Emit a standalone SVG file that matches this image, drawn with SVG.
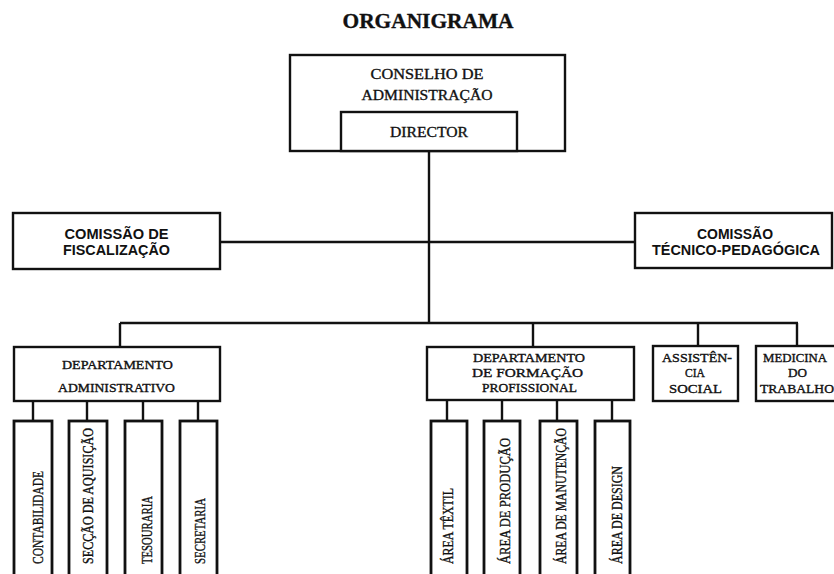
<svg xmlns="http://www.w3.org/2000/svg" width="834" height="574" viewBox="0 0 834 574">
<style>
.box{fill:#fff;stroke:#111;stroke-width:2.4}
.sub{fill:#fff;stroke:#111;stroke-width:2.8}
.ln{fill:none;stroke:#111;stroke-width:2.4}
.serif{font-family:"Liberation Serif","Times New Roman",serif;fill:#111;stroke:#111;stroke-width:0.35;text-anchor:middle}
.sans{font-family:"Liberation Sans",Arial,sans-serif;font-weight:bold;fill:#111;text-anchor:middle;font-size:14.5px}
.vt{font-family:"Liberation Serif","Times New Roman",serif;fill:#111;stroke:#111;stroke-width:0.35;font-size:15px}
</style>
<rect width="834" height="574" fill="#fff"/>
<text x="428" y="28" class="serif" font-size="21" font-weight="bold" textLength="171" lengthAdjust="spacingAndGlyphs">ORGANIGRAMA</text>

<g id="connectors">
<path class="ln" d="M429 151V323M220 242H635M120 323H798M120 323V347M533 323V347M698 323V346M797 323V346"/>
<path class="ln" d="M33 401V421M87 401V421M143 401V421M198 401V421M447 400V421M502 400V421M557 400V421M612 400V421"/>
</g>

<g id="conselho">
<rect class="box" x="290" y="55" width="275" height="96"/>
<text x="427" y="78.5" class="serif" font-size="15" textLength="113" lengthAdjust="spacingAndGlyphs">CONSELHO DE</text>
<text x="427" y="100" class="serif" font-size="15" textLength="131" lengthAdjust="spacingAndGlyphs">ADMINISTRAÇÃO</text>
</g>
<g id="director">
<rect class="box" x="341" y="112" width="176" height="39"/>
<text x="429" y="137" class="serif" font-size="15" textLength="78" lengthAdjust="spacingAndGlyphs">DIRECTOR</text>
</g>

<g id="fiscalizacao">
<rect class="box" x="13" y="213" width="207" height="56"/>
<text x="116.5" y="239" class="sans" textLength="104" lengthAdjust="spacingAndGlyphs">COMISSÃO DE</text>
<text x="116.5" y="255" class="sans" textLength="107" lengthAdjust="spacingAndGlyphs">FISCALIZAÇÃO</text>
</g>
<g id="tecnico">
<rect class="box" x="635" y="213" width="197" height="55"/>
<text x="735" y="239" class="sans" textLength="76" lengthAdjust="spacingAndGlyphs">COMISSÃO</text>
<text x="736" y="255" class="sans" textLength="168" lengthAdjust="spacingAndGlyphs">TÉCNICO-PEDAGÓGICA</text>
</g>

<g id="dep-adm">
<rect class="box" x="14" y="347" width="206" height="54"/>
<text x="117.5" y="369" class="serif" font-size="12.5" textLength="111" lengthAdjust="spacingAndGlyphs">DEPARTAMENTO</text>
<text x="116.5" y="392" class="serif" font-size="12.5" textLength="117" lengthAdjust="spacingAndGlyphs">ADMINISTRATIVO</text>
</g>
<g id="dep-form">
<rect class="box" x="427" y="347" width="207" height="53"/>
<text x="529" y="362" class="serif" font-size="12.5" textLength="112" lengthAdjust="spacingAndGlyphs">DEPARTAMENTO</text>
<text x="527.5" y="377" class="serif" font-size="12.5" textLength="111" lengthAdjust="spacingAndGlyphs">DE FORMAÇÃO</text>
<text x="529.5" y="392" class="serif" font-size="12.5" textLength="95" lengthAdjust="spacingAndGlyphs">PROFISSIONAL</text>
</g>
<g id="assistencia">
<rect class="box" x="653" y="346" width="85" height="55"/>
<text x="697" y="362" class="serif" font-size="12.5" textLength="70" lengthAdjust="spacingAndGlyphs">ASSISTÊN-</text>
<text x="695" y="377" class="serif" font-size="12.5" textLength="20" lengthAdjust="spacingAndGlyphs">CIA</text>
<text x="695.5" y="393" class="serif" font-size="12.5" textLength="53" lengthAdjust="spacingAndGlyphs">SOCIAL</text>
</g>
<g id="medicina">
<rect class="box" x="756" y="346" width="82" height="55"/>
<text x="795" y="362" class="serif" font-size="12.5" textLength="64" lengthAdjust="spacingAndGlyphs">MEDICINA</text>
<text x="797.5" y="377" class="serif" font-size="12.5" textLength="19" lengthAdjust="spacingAndGlyphs">DO</text>
<text x="797" y="393" class="serif" font-size="12.5" textLength="74" lengthAdjust="spacingAndGlyphs">TRABALHO</text>
</g>

<g id="contabilidade">
<rect class="sub" x="14" y="421" width="38" height="160"/>
<text class="vt" transform="translate(43 564) rotate(-90)" textLength="93" lengthAdjust="spacingAndGlyphs">CONTABILIDADE</text>
</g>
<g id="aquisicao">
<rect class="sub" x="69" y="421" width="38" height="160"/>
<text class="vt" transform="translate(93 564) rotate(-90)" textLength="136" lengthAdjust="spacingAndGlyphs">SECÇÃO DE AQUISIÇÃO</text>
</g>
<g id="tesouraria">
<rect class="sub" x="125" y="421" width="37" height="160"/>
<text class="vt" transform="translate(152 564) rotate(-90)" textLength="68" lengthAdjust="spacingAndGlyphs">TESOURARIA</text>
</g>
<g id="secretaria">
<rect class="sub" x="180" y="421" width="37" height="160"/>
<text class="vt" transform="translate(205 564) rotate(-90)" textLength="66" lengthAdjust="spacingAndGlyphs">SECRETARIA</text>
</g>

<g id="textil">
<rect class="sub" x="431" y="421" width="36" height="160"/>
<text class="vt" transform="translate(453 564) rotate(-90)" textLength="76" lengthAdjust="spacingAndGlyphs">ÁREA TÊXTIL</text>
</g>
<g id="producao">
<rect class="sub" x="484" y="421" width="36" height="160"/>
<text class="vt" transform="translate(510 564) rotate(-90)" textLength="126" lengthAdjust="spacingAndGlyphs">ÁREA DE PRODUÇÃO</text>
</g>
<g id="manutencao">
<rect class="sub" x="540" y="421" width="37" height="160"/>
<text class="vt" transform="translate(566 564) rotate(-90)" textLength="136" lengthAdjust="spacingAndGlyphs">ÁREA DE MANUTENÇÃO</text>
</g>
<g id="design">
<rect class="sub" x="595" y="421" width="35" height="160"/>
<text class="vt" transform="translate(622 564) rotate(-90)" textLength="98" lengthAdjust="spacingAndGlyphs">ÁREA DE DESIGN</text>
</g>
</svg>
